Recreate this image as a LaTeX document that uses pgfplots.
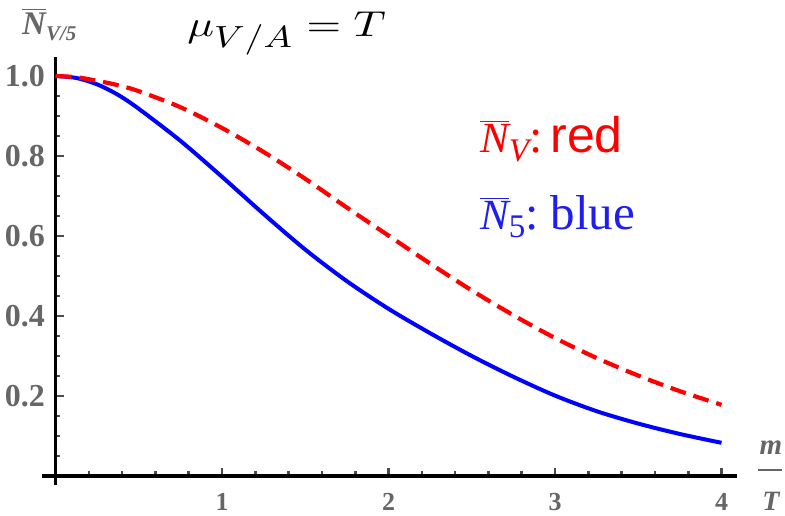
\documentclass[border=0pt]{standalone}
\usepackage{fontspec}
\usepackage{amsmath}
\usepackage{pgfplots}
\pgfplotsset{compat=1.18}
\setmainfont{Liberation Serif}
\newfontfamily\sansfont{Liberation Sans}
\definecolor{lblgray}{RGB}{102,102,102}
\definecolor{tickgray}{RGB}{75,75,75}
\definecolor{mred}{RGB}{255,0,0}
\definecolor{mblue}{RGB}{0,0,255}
\definecolor{lblue}{RGB}{30,30,240}

\pgfplotstableread{
x y
0.000 1.000
0.125 0.997
0.250 0.988
0.375 0.977
0.500 0.962
0.750 0.922
1.000 0.870
1.250 0.810
1.500 0.743
1.750 0.671
2.000 0.601
2.250 0.531
2.500 0.464
2.750 0.402
3.000 0.345
3.250 0.295
3.500 0.251
3.750 0.212
4.000 0.178
}\redtab

\pgfplotstableread{
x y
0.000 1.000
0.125 0.995
0.250 0.979
0.375 0.953
0.500 0.918
0.750 0.838
1.000 0.748
1.250 0.655
1.500 0.566
1.750 0.487
2.000 0.418
2.250 0.357
2.500 0.300
2.750 0.248
3.000 0.201
3.250 0.162
3.500 0.131
3.750 0.105
4.000 0.083
}\bluetab

\begin{document}
\begin{tikzpicture}
\begin{axis}[
  at={(0pt,0pt)}, anchor=south west,
  scale only axis, width=694.3pt, height=428pt,
  xmin=-0.08, xmax=4.09, ymin=-0.0225, ymax=1.0475,
  axis lines=middle,
  axis line style={-, line width=3.6pt, black},
  tick align=inside,
  major tick length=8pt, minor tick length=4.5pt,
  tick style={line width=2.6pt, tickgray},
  xtick={1,2,3,4}, xticklabels={1,2,3,4},
  minor xtick={0.2,0.4,0.6,0.8,1.2,1.4,1.6,1.8,2.2,2.4,2.6,2.8,3.2,3.4,3.6,3.8},
  ytick={0.2,0.4,0.6,0.8,1.0}, yticklabels={0.2,0.4,0.6,0.8,1.0},
  minor ytick={0.05,0.1,0.15,0.25,0.3,0.35,0.45,0.5,0.55,0.65,0.7,0.75,0.85,0.9,0.95},
  xticklabel style={font=\fontsize{26}{28}\selectfont\bfseries, text=lblgray, anchor=north, inner sep=0pt, yshift=-17pt},
  yticklabel style={font=\fontsize{32}{36}\selectfont\bfseries, text=lblgray, anchor=east, inner sep=0pt, xshift=-10.5pt},
  clip=false,
]
\addplot[mblue, line width=4pt, smooth, line join=round] table[x=x,y=y] {\bluetab};
\addplot[mred, line width=4.2pt, smooth, line cap=butt, dash pattern=on 16pt off 8pt] table[x=x,y=y] {\redtab};
\end{axis}

% y-axis label
\node[anchor=base west, inner sep=0pt, text=lblgray] at (-20.2pt,450pt)
  {\fontsize{33}{36}\selectfont\bfseries\itshape $\overline{\text{N}}$\raisebox{-6pt}{\fontsize{21}{24}\selectfont V/5}};
% title
\node[anchor=base west, inner sep=0pt] at (145pt,448pt)
  {\scalebox{4.45}[3.6]{$\mu_{\raisebox{-1.2pt}{\scalebox{0.85}{$V/A$}}}=T$}};
% legend texts
\node[anchor=base west, inner sep=0pt, text=mred] at (437.8pt,332pt)
  {\fontsize{43}{48}\selectfont$\overline{\text{\itshape N}}$\raisebox{-9pt}{\fontsize{33}{36}\selectfont\itshape V}\fontsize{48}{52}\selectfont:\hspace{8pt}{\sansfont\fontsize{50}{54}\selectfont red}};
\node[anchor=base west, inner sep=0pt, text=lblue] at (437.8pt,255pt)
  {\fontsize{43}{48}\selectfont$\overline{\text{\itshape N}}$\raisebox{-8pt}{\fontsize{33}{36}\selectfont 5}\fontsize{48}{52}\selectfont:\hspace{12pt}{\fontsize{49}{52}\selectfont blue}};
% x-axis label m / T
\node[anchor=base, inner sep=0pt, text=lblgray] at (728.8pt,30pt) {\fontsize{29}{32}\selectfont\bfseries\itshape m};
\draw[lblgray, line width=2.5pt] (715.8pt,15pt) -- (739.8pt,15pt);
\node[anchor=base, inner sep=0pt, text=lblgray] at (728.8pt,-26pt) {\fontsize{28}{30}\selectfont\bfseries\itshape T};

\pgfresetboundingbox
\path (-42.2pt,-31pt) rectangle (742.8pt,485pt);
\end{tikzpicture}
\end{document}
